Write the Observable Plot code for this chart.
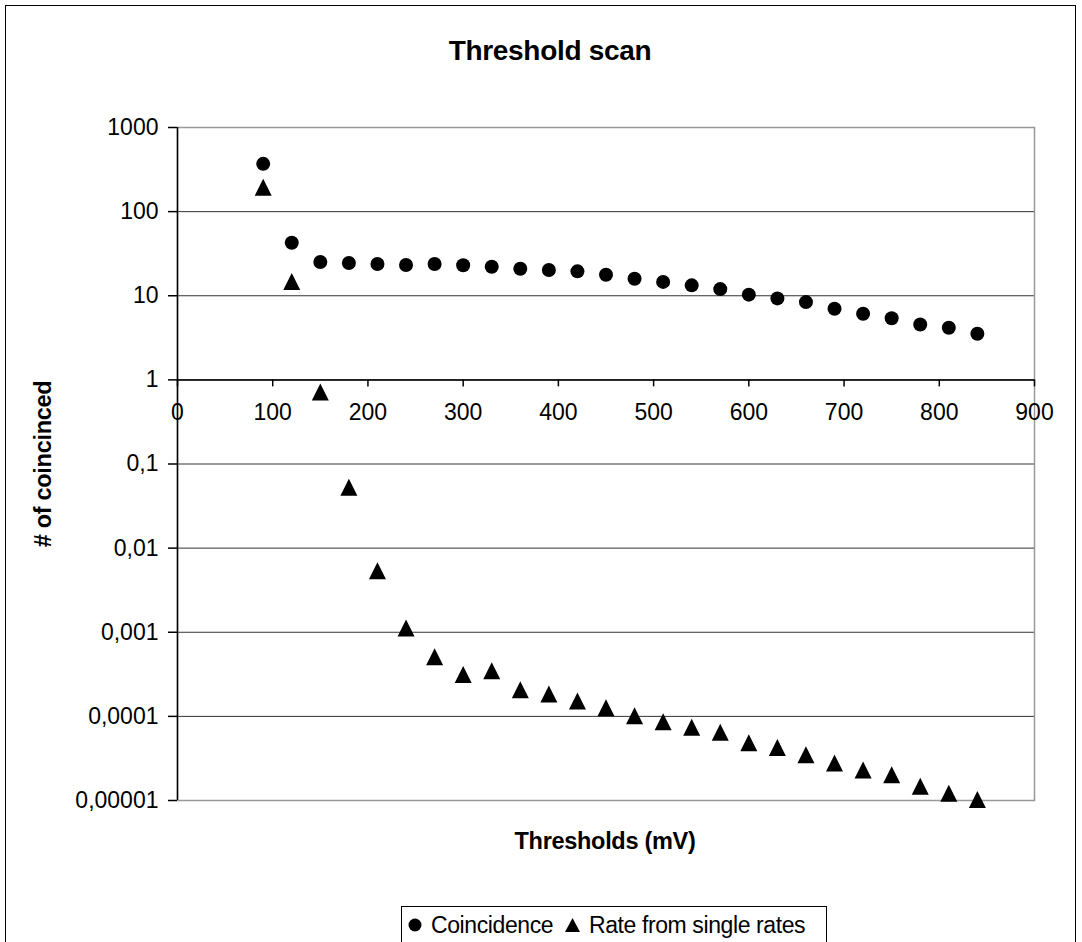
<!DOCTYPE html>
<html>
<head>
<meta charset="utf-8">
<script src="https://cdn.jsdelivr.net/npm/d3@7"></script>
<script src="https://cdn.jsdelivr.net/npm/@observablehq/plot@0.6"></script>
<style>
  html, body { margin: 0; padding: 0; background: #fff; overflow: hidden; }
  body { width: 1082px; height: 942px; position: relative; font-family: "Liberation Sans", Arial, sans-serif; color: #000; }
  #border { position: absolute; left: 5px; top: 5px; width: 1071px; height: 1000px; border: 1px solid #000; box-sizing: border-box; }
  #chart { position: absolute; left: 0; top: 0; }
  #title { position: absolute; left: 350px; width: 400px; top: 34px; text-align: center; font-weight: bold; font-size: 28px; line-height: 34px; letter-spacing: -0.3px; }
  #xtitle { position: absolute; left: 405px; width: 400px; top: 827px; text-align: center; font-weight: bold; font-size: 23.5px; line-height: 28px; letter-spacing: -0.3px; }
  #ytitle { position: absolute; left: 43px; top: 464px; transform: translate(-50%, -50%) rotate(-90deg); white-space: nowrap; font-weight: bold; font-size: 23.5px; line-height: 28px; letter-spacing: -0.3px; }
  #legend { position: absolute; left: 401px; top: 906px; width: 426px; height: 60px; border: 1px solid #000; box-sizing: border-box; font-size: 23px; white-space: nowrap; letter-spacing: -0.4px; }
  #legend .item { position: absolute; top: 4px; height: 28px; line-height: 28px; display: flex; align-items: center; }
  #legend svg { margin-right: 9px; }
</style>
</head>
<body>
<div id="border"></div>
<div id="chart"></div>
<div id="title">Threshold scan</div>
<div id="xtitle">Thresholds (mV)</div>
<div id="ytitle"># of coincinced</div>
<div id="legend"></div>
<script>
// ---- data ----
const thresholds = [90, 120, 150, 180, 210, 240, 270, 300, 330, 360, 390, 420, 450,
                    480, 510, 540, 570, 600, 630, 660, 690, 720, 750, 780, 810, 840];
const coincidence = [370, 42.6, 25.2, 24.5, 23.8, 23.2, 23.8, 23.0, 22.1, 20.9, 20.2, 19.5, 17.8,
                     15.9, 14.6, 13.3, 12.0, 10.3, 9.3, 8.4, 7.0, 6.1, 5.4, 4.55, 4.16, 3.53];
const rateFromSingles = [195, 14.8, 0.72, 0.053, 0.0054, 0.00112, 0.000513, 0.000315, 0.000348,
                         0.000207, 0.000184, 0.000152, 0.000127, 0.000102, 0.0000865, 0.0000743,
                         0.0000649, 0.0000486, 0.0000428, 0.0000351, 0.0000279, 0.0000231,
                         0.0000203, 0.0000148, 0.0000122, 0.0000103];
const seriesNames = ["Coincidence", "Rate from single rates"];
const xTicks = [0, 100, 200, 300, 400, 500, 600, 700, 800, 900];
const yTicks = [1000, 100, 10, 1, 0.1, 0.01, 0.001, 0.0001, 0.00001];
const yTickLabels = ["1000", "100", "10", "1", "0,1", "0,01", "0,001", "0,0001", "0,00001"];
const xDomain = [0, 900];
const yDomain = [0.00001, 1000];
const xCross = 1; // value where the x axis crosses

// ---- layout ----
const W = 1082, H = 942;
const mLeft = 177, mRight = 48, mTop = 127, mBottom = 142;

const coincData = thresholds.map((t, i) => ({x: t, y: coincidence[i]}));
const rateData = thresholds.map((t, i) => ({x: t, y: rateFromSingles[i]}));
const yLabel = new Map(yTicks.map((v, i) => [v, yTickLabels[i]]));

// pixel offset moving the x axis from the bottom up to y = xCross
const yPix = d3.scaleLog().domain(yDomain).range([H - mBottom, mTop]);
const axisShift = yPix(xCross) - yPix(yDomain[0]);

const triangle = {
  draw(ctx, size) {
    const h = Math.sqrt(size / Math.PI);
    ctx.moveTo(0, -h);
    ctx.lineTo(h, h);
    ctx.lineTo(-h, h);
    ctx.closePath();
  }
};

const chart = Plot.plot({
  width: W, height: H,
  marginLeft: mLeft, marginRight: mRight, marginTop: mTop, marginBottom: mBottom,
  style: {fontFamily: "'Liberation Sans', Arial, sans-serif", fontSize: "23px", color: "#000", background: "transparent"},
  x: {domain: xDomain},
  y: {type: "log", domain: yDomain},
  marks: [
    Plot.ruleY(yTicks, {stroke: "#333", strokeWidth: 1}),
    Plot.frame({stroke: "#999", strokeWidth: 1.5}),
    Plot.ruleY([xCross], {stroke: "#000", strokeWidth: 1.5}),
    Plot.ruleX([xDomain[0]], {stroke: "#000", strokeWidth: 1.5}),
    Plot.axisY({ticks: yTicks, tickFormat: d => yLabel.get(d), tickSize: 9, tickPadding: 10, label: null, fontSize: 23, strokeWidth: 1.5}),
    Plot.axisX({ticks: xTicks, tickFormat: d => String(d), tickSize: 7, tickPadding: 17, dy: axisShift, label: null, fontSize: 23, strokeWidth: 1.5}),
    Plot.dot(coincData, {x: "x", y: "y", r: 7, fill: "#000", stroke: null}),
    Plot.dot(rateData, {x: "x", y: "y", r: 8.5, symbol: triangle, fill: "#000", stroke: null})
  ]
});
document.getElementById("chart").appendChild(chart);

// legend
const legend = document.getElementById("legend");
const icons = [
  '<svg width="14" height="14"><circle cx="7" cy="7" r="6.5" fill="#000"/></svg>',
  '<svg width="15" height="14"><path d="M7.5 0 L15 14 L0 14 Z" fill="#000"/></svg>'
];
const lefts = [6, 163];
seriesNames.forEach((name, i) => {
  const it = document.createElement("div");
  it.className = "item";
  it.style.left = lefts[i] + "px";
  it.innerHTML = icons[i] + "<span>" + name + "</span>";
  legend.appendChild(it);
});
</script>
</body>
</html>
